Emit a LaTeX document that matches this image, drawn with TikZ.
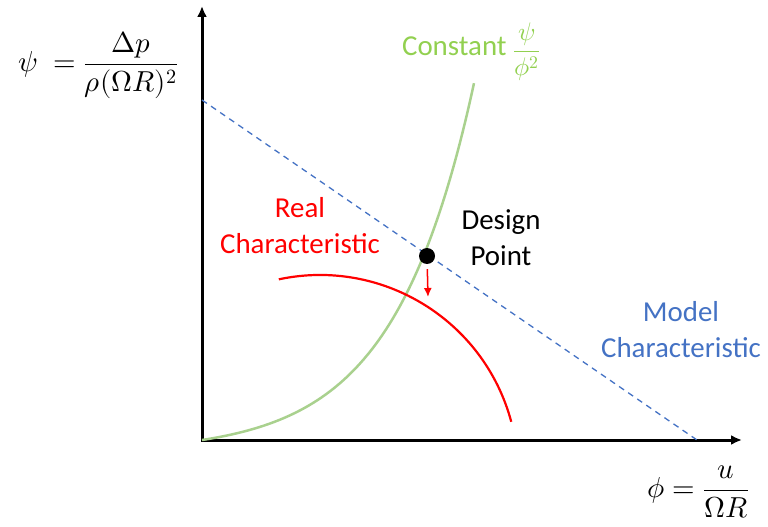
\documentclass[tikz,border=0pt]{standalone}
\usepackage{fontspec}
\usepackage{unicode-math}
\usepackage{graphicx}
\setmainfont{Carlito}
\setmathfont{Latin Modern Math}
\usetikzlibrary{positioning,arrows.meta}

\definecolor{modelblue}{HTML}{4472C4}
\definecolor{curvegreen}{HTML}{A9D18E}
\definecolor{labelgreen}{HTML}{92D050}

\begin{document}
\begin{tikzpicture}[x=1bp, y=-1bp, font=\fontsize{29}{36}\selectfont,
    axis/.style={line width=3bp, {Latex[length=11bp,width=10bp]}-{Latex[length=11bp,width=10bp]}},
    model/.style={modelblue, line width=1.3bp, dash pattern=on 6bp off 5bp},
    lbl/.style={align=center, inner sep=0pt}]
  \useasboundingbox (0,0) rectangle (768,527);
  % axes
  \coordinate (o) at (202,440);
  \coordinate (ytip) at (202,6);
  \coordinate (xtip) at (742,440);
  \draw[axis] (ytip) -- (o) -- (xtip);
  % model line
  \coordinate (m0) at (202,100);
  \coordinate (m1) at (697,440);
  \draw[model] (m0) -- (m1);
  % constant psi/phi^2
  \draw[curvegreen, line width=2.5bp] plot[domain=0:272, samples=60, smooth]
    ({202+\x}, {440-12.33*(exp(0.0125*\x)-1)});
  % real characteristic
  \coordinate (rc) at (320,473);
  \draw[red, line width=2.2bp] ([shift={(-102:198)}]rc) arc[start angle=-102, end angle=-15, radius=198];
  % design point
  \node[circle, fill=black, inner sep=0pt, minimum size=16bp] (dp) at (427,256) {};
  \coordinate (drop) at (428,297);
  \draw[red, line width=1.5bp, -{Latex[length=9bp,width=8bp]}, shorten <=5bp] (dp) -- (drop);
  % labels
  \node (psilbl) at (98,65) {$\displaystyle\psi\;=\frac{\Delta p}{\rho(\Omega R)^2}$};
  \node (philbl) at (698,492) {$\displaystyle\phi=\frac{u}{\Omega R}$};
  \node[text=labelgreen] (const) at (471,52) {Constant \raisebox{-3bp}{\scalebox{0.88}{$\displaystyle\boldsymbol{\frac{\psi}{\phi^2}}$}}};
  \node[lbl, text=red] (real) at (300,226) {Real\\Characteristic};
  \node[lbl] (design) at (501,238) {Design\\Point};
  \node[lbl, text=modelblue] (model) at (681,330) {Model\\Characteristic};
\end{tikzpicture}
\end{document}
